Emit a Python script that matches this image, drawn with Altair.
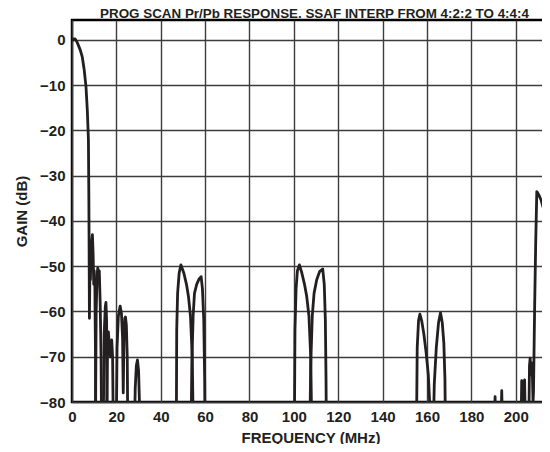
import altair as alt
import pandas as pd

# ---- data (frequency in MHz, gain in dB) ----
MAIN_F = [0.0, 0.7, 1.4, 2.2, 2.8, 3.7, 4.6, 5.5, 6.3, 6.9, 7.4, 7.6, 7.75, 7.85,
          8.1, 8.3, 8.6, 9.2, 9.5, 9.8, 10.0, 10.3, 10.6, 10.75]
MAIN_G = [-0.2, 0.2, 0.2, -0.4, -1.1, -2.2, -3.7, -6.6, -10.3, -15.5, -22.0, -35.0, -50.0, -61.5,
          -50.0, -53.0, -46.0, -43.0, -47.0, -54.0, -51.0, -54.0, -70.0, -90.0]

L1_F = [10.5, 10.9, 11.3, 11.6, 12.0, 12.3, 12.7, 13.1, 13.4]
L1_G = [-90, -60, -52, -50.4, -51.5, -51, -58, -70, -90]

L2_F = [14.0, 14.5, 15.0, 15.3, 15.6, 15.9]
L2_G = [-90, -65, -59, -58, -62, -90]

L3_F = [15.5, 16.0, 16.4, 16.9, 17.3, 17.9, 18.3, 18.7]
L3_G = [-90, -68, -64.5, -68, -70, -66.3, -70, -90]

L4_F = [19.9, 20.3, 20.9, 21.7, 22.3, 22.8, 23.1, 23.4, 23.8, 24.1, 24.5, 24.9, 25.2]
L4_G = [-90, -68, -61, -58.8, -60.5, -66, -78, -66, -61.5, -61.2, -63, -70, -90]

L5_F = [28.0, 28.5, 29.0, 29.5, 30.0, 30.4, 30.7]
L5_G = [-90, -77, -72, -70.7, -73, -80, -90]

A_F = [47.0, 47.2, 47.6, 48.3, 49.1, 50.4, 51.6, 52.5, 53.4, 54.2, 54.8]
A_G = [-90, -64, -56, -51.5, -49.7, -51.5, -54, -56.7, -61, -70, -90]

B_F = [53.6, 54.0, 54.6, 55.2, 56.2, 57.3, 58.2, 58.8, 59.4, 59.8, 60.0]
B_G = [-90, -72, -61, -56, -54, -52.8, -52.3, -55, -62, -75, -90]

C_F = [100.2, 100.5, 101.0, 101.6, 102.5, 103.6, 104.8, 105.8, 106.8, 107.6, 108.2]
C_G = [-90, -64, -55, -51, -49.7, -51.5, -54, -56.7, -61, -70, -90]

D_F = [107.1, 107.6, 108.3, 109.1, 110.3, 111.6, 113.0, 113.7, 114.2, 114.5, 114.7]
D_G = [-90, -72, -61, -56, -53, -51.2, -50.6, -54, -62, -75, -90]

E_F = [155.2, 155.6, 156.2, 156.8, 157.6, 158.6, 159.6, 160.6, 161.2, 161.6]
E_G = [-90, -68, -62, -60.6, -62, -65, -69, -74, -80, -90]

F_F = [162.7, 163.3, 164.2, 165.2, 166.1, 166.9, 167.6, 168.1, 168.4]
F_G = [-90, -76, -68, -62.5, -60.3, -62.5, -67, -75, -90]

S1_F = [190.2, 190.7, 191.1]
S1_G = [-90, -78.8, -90]
S2_F = [193.1, 193.7, 194.2]
S2_G = [-90, -77.5, -90]

T1_F = [202.3, 202.7, 203.2, 203.6, 204.0, 204.5]
T1_G = [-90, -75.3, -82, -76, -75.1, -90]

T2_F = [205.8, 206.2, 206.5, 206.9, 207.4, 207.8, 208.0, 208.5, 209.0, 209.5,
        210.5, 211.5, 212.8, 214.0, 215.0, 215.01]
T2_G = [-90, -72, -70.3, -74, -71.4, -80, -78, -60, -45, -33.5,
        -34.3, -35.5, -37.8, -40.5, -42.5, -60]

SEGMENTS = [(MAIN_F, MAIN_G), (L1_F, L1_G), (L2_F, L2_G), (L3_F, L3_G),
            (L4_F, L4_G), (L5_F, L5_G), (A_F, A_G), (B_F, B_G), (C_F, C_G),
            (D_F, D_G), (E_F, E_G), (F_F, F_G), (S1_F, S1_G), (S2_F, S2_G),
            (T1_F, T1_G), (T2_F, T2_G)]

X_TICKS = [0, 20, 40, 60, 80, 100, 120, 140, 160, 180, 200]
Y_TICKS = [0, -10, -20, -30, -40, -50, -60, -70, -80]

rows = []
for s, (fs, gs) in enumerate(SEGMENTS):
    for i, (f, g) in enumerate(zip(fs, gs)):
        rows.append({"seg": s, "idx": i, "freq": f, "gain": g})
df = pd.DataFrame(rows)

INK = "#231f20"
FONT = "Liberation Sans"

chart = alt.Chart(df).mark_line(
    clip=True, color=INK, strokeWidth=2.8, strokeJoin="round"
).encode(
    x=alt.X("freq:Q",
            scale=alt.Scale(domain=[0, 215], nice=False, zero=False),
            axis=alt.Axis(values=X_TICKS, title="FREQUENCY (MHz)", labelFlush=False)),
    y=alt.Y("gain:Q",
            scale=alt.Scale(domain=[-80, 4.4], nice=False, zero=False),
            axis=alt.Axis(values=Y_TICKS, title="GAIN (dB)", labelFlush=False)),
    detail="seg:N",
    order="idx:Q",
).properties(
    width=477, height=382,
    title=alt.TitleParams(
        "PROG SCAN Pr/Pb RESPONSE. SSAF INTERP FROM 4:2:2 TO 4:4:4",
        fontSize=13.4, fontWeight="bold", font=FONT, color=INK,
        anchor="middle", offset=2, dx=4, dy=2.5),
    autosize=alt.AutoSizeParams(type="none"),
    padding={"left": 64, "top": 12, "right": -7, "bottom": 42},
).configure_view(
    stroke="#000000", strokeWidth=2.5
).configure_axis(
    grid=True, gridColor="#3c3c3c", gridWidth=1.4,
    domain=False, ticks=False,
    labelFont=FONT, labelFontSize=15, labelFontWeight="bold", labelColor=INK,
    labelPadding=7,
    titleFont=FONT, titleFontSize=15, titleFontWeight="bold", titleColor=INK,
).configure_axisY(
    titlePadding=10
).configure_axisX(
    titlePadding=6
)

chart.save("out.html", embed_options={"renderer": "svg", "actions": False})
